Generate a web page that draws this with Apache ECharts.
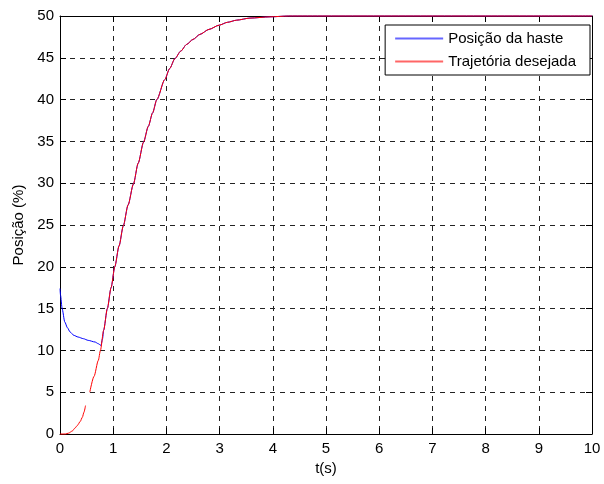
<!DOCTYPE html>
<html>
<head>
<meta charset="utf-8">
<style>
  html, body { margin: 0; padding: 0; background: #fff; }
  #chart { width: 604px; height: 484px; }
</style>
<script src="https://cdn.jsdelivr.net/npm/echarts@6/dist/echarts.min.js"></script>
</head>
<body>
<div id="chart"></div>
<script>
// Measured rod position (blue) and desired trajectory (red), position in % vs time in s
const timeRod = [0, 0.01, 0.04, 0.09, 0.14, 0.19, 0.26, 0.34, 0.44, 0.53, 0.66, 0.72, 0.77, 0.80, 0.82, 0.89, 0.96, 1.03, 1.11, 1.19, 1.28, 1.38, 1.47, 1.57, 1.66, 1.74, 1.82, 1.97, 2.06, 2.16, 2.27, 2.38, 2.50, 2.63, 2.80, 2.99, 3.15, 3.32, 3.57, 3.95, 4.30, 5, 6, 7, 8, 9, 10];
const posRod = [17.4, 16.6, 15.0, 13.4, 12.7, 12.2, 11.8, 11.6, 11.4, 11.2, 11.0, 10.8, 10.6, 11.4, 12.4, 15.0, 17.5, 20.0, 22.5, 24.9, 27.4, 29.9, 32.4, 34.9, 36.8, 38.4, 40.0, 42.4, 43.7, 44.9, 45.8, 46.6, 47.2, 47.8, 48.4, 48.9, 49.25, 49.5, 49.75, 49.9, 50, 50, 50, 50, 50, 50, 50];

const timeDesired = [0, 0.10, 0.16, 0.23, 0.28, 0.33, 0.38, 0.42, 0.45, 0.48, 0.52, 0.56, 0.64, 0.72, 0.76, 0.82, 0.89, 0.96, 1.03, 1.11, 1.19, 1.28, 1.38, 1.47, 1.57, 1.66, 1.74, 1.82, 1.97, 2.06, 2.16, 2.27, 2.38, 2.50, 2.63, 2.80, 2.99, 3.15, 3.32, 3.57, 3.95, 4.30, 5, 6, 7, 8, 9, 10];
const posDesired = [0, 0, 0.1, 0.35, 0.7, 1.05, 1.5, 2.0, 2.6, 3.4, null, 5.0, 6.9, 8.8, 10.0, 12.4, 15.0, 17.5, 20.0, 22.5, 24.9, 27.4, 29.9, 32.4, 34.9, 36.8, 38.4, 40.0, 42.4, 43.7, 44.9, 45.8, 46.6, 47.2, 47.8, 48.4, 48.9, 49.25, 49.5, 49.75, 49.9, 50, 50, 50, 50, 50, 50, 50];

const seriesNames = ['Posição da haste', 'Trajetória desejada'];
const seriesColors = ['#0000ff', '#ff0000'];
const xTicks = { min: 0, max: 10, step: 1 };
const yTicks = { min: 0, max: 50, step: 5 };

function pairs(xs, ys) {
  return xs.map((x, i) => [x, ys[i] === null ? '-' : ys[i]]);
}

const font = 'Liberation Sans, Arial, Helvetica, sans-serif';
const fontSize = 15;

const chart = echarts.init(document.getElementById('chart'), null, { renderer: 'canvas' });

const dashedGrid = { show: true, lineStyle: { color: '#222', type: [5, 5], width: 1 } };
const boxAxisLine = { show: true, onZero: false, lineStyle: { color: '#000', width: 1 } };
const innerTick = { show: true, inside: true, length: 6, lineStyle: { color: '#000' } };

function lineSeries(name, color, data, z) {
  return {
    name: name,
    type: 'line',
    xAxisIndex: 0, yAxisIndex: 0,
    data: data,
    showSymbol: false,
    symbol: 'none',
    connectNulls: false,
    smooth: 0.25,
    smoothMonotone: 'x',
    clip: false,
    lineStyle: { color: color, width: 1 },
    itemStyle: { color: color },
    z: z
  };
}

chart.setOption({
  animation: false,
  backgroundColor: '#fff',
  textStyle: { fontFamily: font },
  grid: { left: 60, right: 12, top: 16, bottom: 50, containLabel: false },
  legend: {
    orient: 'vertical',
    right: 14,
    top: 25,
    padding: [6, 14, 6, 9],
    itemWidth: 48,
    itemHeight: 14,
    itemGap: 8,
    borderColor: '#000',
    borderWidth: 1,
    backgroundColor: '#fff',
    // only the line sample is shown, the point marker is hidden
    itemStyle: { opacity: 0 },
    lineStyle: { width: 2, opacity: 0.6 },
    textStyle: { fontFamily: font, fontSize: fontSize, color: '#000' },
    data: seriesNames
  },
  xAxis: [{
    type: 'value',
    min: xTicks.min, max: xTicks.max, interval: xTicks.step,
    name: 't(s)',
    nameLocation: 'middle',
    nameGap: 22,
    nameTextStyle: { fontFamily: font, fontSize: fontSize, color: '#000' },
    axisLine: boxAxisLine,
    axisTick: innerTick,
    axisLabel: { color: '#000', fontFamily: font, fontSize: fontSize, margin: 7 },
    splitLine: dashedGrid
  }, {
    type: 'value', position: 'top',
    min: xTicks.min, max: xTicks.max, interval: xTicks.step,
    axisLine: boxAxisLine,
    axisTick: innerTick,
    axisLabel: { show: false },
    splitLine: { show: false }
  }],
  yAxis: [{
    type: 'value',
    min: yTicks.min, max: yTicks.max, interval: yTicks.step,
    name: 'Posição (%)',
    nameLocation: 'middle',
    nameGap: 34,
    nameTextStyle: { fontFamily: font, fontSize: fontSize, color: '#000' },
    axisLine: boxAxisLine,
    axisTick: innerTick,
    axisLabel: { color: '#000', fontFamily: font, fontSize: fontSize, margin: 6 },
    splitLine: dashedGrid
  }, {
    type: 'value', position: 'right',
    min: yTicks.min, max: yTicks.max, interval: yTicks.step,
    axisLine: boxAxisLine,
    axisTick: innerTick,
    axisLabel: { show: false },
    splitLine: { show: false }
  }],
  series: [
    lineSeries(seriesNames[0], seriesColors[0], pairs(timeRod, posRod), 3),
    lineSeries(seriesNames[1], seriesColors[1], pairs(timeDesired, posDesired), 4)
  ]
});
</script>
</body>
</html>
